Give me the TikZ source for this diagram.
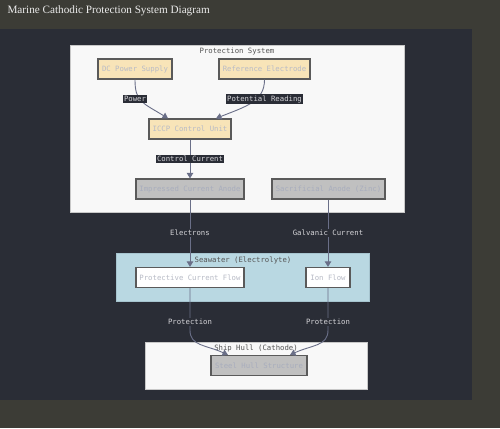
\documentclass[tikz,border=0pt]{standalone}
\usepackage{fontspec}
\setmainfont{Liberation Serif}
\setmonofont{DejaVu Sans Mono}
\usepackage{tikz}
\usetikzlibrary{arrows.meta}
\definecolor{OUTER}{HTML}{3C3C36}
\definecolor{PANEL}{HTML}{2A2D36}
\definecolor{CLUSTER}{HTML}{F8F8F8}
\definecolor{CLUSTERLINE}{HTML}{C8C8C8}
\definecolor{SEA}{HTML}{B9D8E2}
\definecolor{SEALINE}{HTML}{A6C4CF}
\definecolor{BEIGE}{HTML}{F8E4B8}
\definecolor{GRAYBOX}{HTML}{C0C0C0}
\definecolor{NODELINE}{HTML}{5A5A5A}
\definecolor{NODETEXT}{HTML}{B8BBC6}
\definecolor{GRAYTEXT}{HTML}{A8ADBD}
\definecolor{EDGE}{HTML}{6A6F88}
\definecolor{LABELTEXT}{HTML}{D4D4D8}
\definecolor{TITLE}{HTML}{555555}

\tikzset{
    box/.style={draw=NODELINE, line width=1.2pt, inner sep=0pt, minimum height=20, text=NODETEXT, font=\ttfamily\fontsize{7.3}{8}\selectfont},
    beigebox/.style={box, fill=BEIGE},
    graybox/.style={box, fill=GRAYBOX, text=GRAYTEXT},
    whitebox/.style={box, fill=white},
    edge/.style={EDGE, line width=0.9pt, -{Triangle[width=6.5pt,length=5.5pt]}},
    lbl/.style={fill=PANEL, text=LABELTEXT, inner sep=1pt, font=\ttfamily\fontsize{7.3}{8}\selectfont},
    clustertitle/.style={text=TITLE, font=\ttfamily\fontsize{7.3}{8}\selectfont}
}

\begin{document}
\begin{tikzpicture}[x=1pt, y=-1pt]
    \useasboundingbox (0,0) rectangle (500,428);
    \fill[OUTER] (0,0) rectangle (500,428);
    \fill[PANEL] (0,29) rectangle (472,400);
    \node[anchor=west, text=white!92!black, font=\fontsize{11.2}{13}\selectfont] (title) at (4,11) {Marine Cathodic Protection System Diagram};

    \draw[CLUSTERLINE, fill=CLUSTER] (70,45) rectangle (404,212);
    \node[clustertitle] (protsys) at (237,51) {Protection System};
    \draw[SEALINE, fill=SEA] (116,253) rectangle (369,301);
    \node[clustertitle] (seawater) at (243,260) {Seawater (Electrolyte)};
    \draw[CLUSTERLINE, fill=CLUSTER] (145,342) rectangle (367,389);
    \node[clustertitle] (hull) at (256,348) {Ship Hull (Cathode)};

    \node[beigebox, minimum width=74] (dc) at (135,69) {DC Power Supply};
    \node[beigebox, minimum width=91] (ref) at (264.5,69) {Reference Electrode};
    \node[beigebox, minimum width=82] (iccp) at (190,129) {ICCP Control Unit};
    \node[graybox, minimum width=108] (ica) at (190,189) {Impressed Current Anode};
    \node[graybox, minimum width=113] (sac) at (328.5,189) {Sacrificial Anode (Zinc)};
    \node[whitebox, minimum width=108] (pcf) at (190,277.5) {Protective Current Flow};
    \node[whitebox, minimum width=44] (ion) at (328,277.5) {Ion Flow};
    \node[graybox, minimum width=96] (steel) at (259,365.5) {Steel Hull Structure};

    \draw[edge] (dc.south) .. controls ++(0,22) and ++(-26,-16) .. ([xshift=-22]iccp.north);
    \draw[edge] (ref.south) .. controls ++(0,22) and ++(30,-12) .. ([xshift=26]iccp.north);
    \draw[edge] (iccp.south) -- (ica.north);
    \draw[edge] (ica.south) -- (pcf.north);
    \draw[edge] ([xshift=-0.5]sac.south) -- (ion.north);
    \draw[edge] (pcf.south) -- ++(0,42) .. controls ++(0,16) and ++(-22,-10) .. ([xshift=-31]steel.north);
    \draw[edge] (ion.south) -- ++(0,42) .. controls ++(0,16) and ++(22,-10) .. ([xshift=31]steel.north);

    \node[lbl] (power) at (135,99) {Power};
    \node[lbl] (potential) at (264.5,99) {Potential Reading};
    \node[lbl] (control) at (190,159) {Control Current};
    \node[lbl] (electrons) at (190,233) {Electrons};
    \node[lbl] (galvanic) at (328,233) {Galvanic Current};
    \node[lbl] (prot1) at (190,322) {Protection};
    \node[lbl] (prot2) at (328,322) {Protection};
\end{tikzpicture}
\end{document}
